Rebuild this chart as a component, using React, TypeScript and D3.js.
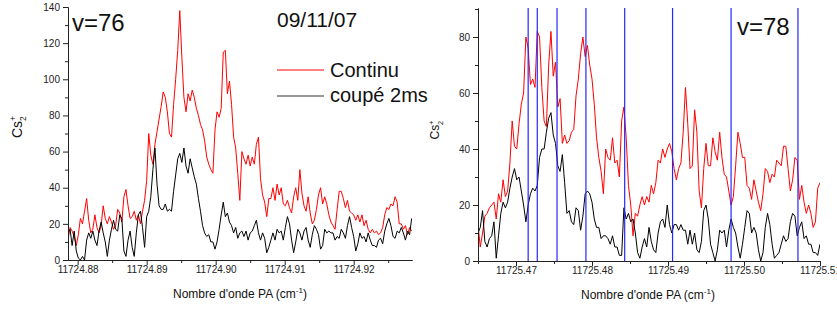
import { useEffect, useRef } from "react";
import * as d3 from "d3";

const WIDTH = 837;
const HEIGHT = 311;
const FONT = "'Liberation Sans', Arial, sans-serif";

// both scans are sampled every 0.0003 cm-1
const scanStep = 0.0003;

// v=76 scan (09/11/07)
const start76 = 11724.8786;
const continu76 = [
  11, 18, 16, 13, 8, 14, 23, 20, 27, 34,
  22, 15, 17, 25, 18, 15, 19, 30, 23, 20,
  24, 21, 17, 19, 28, 26, 21, 35, 39, 30,
  23, 24, 27, 22, 25, 20, 27, 33, 44, 70,
  58, 53, 64, 71, 78, 85, 93, 90, 82, 70,
  68, 86, 100, 116, 138, 112, 90, 82, 92, 88,
  94, 90, 84, 80, 75, 72, 66, 57, 53, 50,
  48, 72, 82, 79, 84, 115, 116, 92, 99, 86,
  68, 62, 48, 33, 60, 56, 53, 58, 52, 57,
  53, 64, 68, 45, 36, 32, 24, 34, 34, 40,
  33, 42, 36, 40, 31, 30, 33, 29, 26, 35,
  40, 33, 50, 37, 30, 27, 35, 26, 20, 22,
  28, 36, 40, 31, 35, 31, 25, 21, 19, 17,
  28, 38, 38, 34, 29, 33, 27, 26, 25, 22,
  25, 21, 25, 19, 22, 17, 15, 17, 15, 16,
  14, 15, 18, 25, 29, 28, 31, 30, 35, 32,
  20, 20, 17, 19, 14, 18, 16,
];
const coupe76 = [
  15, 17, 8, 16, 5, 1, 0, 2, 0, 11,
  15, 12, 16, 11, 8, 16, 21, 15, 10, 2,
  11, 17, 22, 17, 16, 25, 23, 5, 2, 11,
  16, 7, 2, 15, 25, 27, 18, 7, 24, 27,
  35, 50, 62, 42, 30, 28, 28, 31, 27, 28,
  27, 38, 47, 56, 59, 54, 62, 52, 48, 56,
  51, 46, 42, 34, 27, 19, 15, 13, 14, 10,
  10, 6, 10, 17, 25, 32, 24, 26, 21, 19,
  15, 18, 12, 15, 16, 13, 16, 11, 15, 16,
  19, 22, 15, 11, 15, 12, 4, 7, 11, 15,
  11, 17, 15, 16, 11, 18, 24, 20, 11, 4,
  10, 17, 15, 11, 16, 18, 11, 7, 14, 19,
  17, 14, 6, 8, 17, 15, 16, 15, 15, 11,
  13, 12, 17, 15, 12, 19, 24, 18, 13, 5,
  9, 15, 12, 13, 10, 15, 11, 8, 8, 7,
  11, 12, 9, 16, 20, 23, 19, 13, 12, 16,
  15, 18, 15, 11, 16, 14, 23,
];

// v=78 scan
const start78 = 11725.465;
const continu78 = [
  13, 5, 10, 16, 17, 19, 20, 21, 15, 24,
  21, 29, 23, 25, 35, 50, 41, 40, 49, 56,
  60, 80, 76, 63, 65, 62, 82, 80, 62, 50,
  48, 70, 82, 66, 71, 55, 58, 42, 45, 42,
  43, 46, 47, 59, 65, 74, 80, 73, 77, 70,
  65, 56, 44, 37, 32, 24, 40, 37, 36, 44,
  35, 36, 30, 50, 55, 44, 27, 20, 9, 17,
  16, 20, 23, 20, 23, 21, 27, 24, 28, 36,
  35, 40, 37, 40, 42, 39, 33, 29, 33, 35,
  46, 62, 49, 33, 34, 54, 46, 25, 19, 33,
  42, 34, 34, 44, 39, 36, 46, 37, 31, 30,
  25, 20, 23, 34, 46, 42, 37, 37, 27, 26,
  22, 29, 25, 21, 18, 24, 33, 32, 28, 31,
  30, 36, 35, 34, 41, 41, 33, 25, 29, 37,
  36, 22, 27, 21, 17, 20, 17, 12, 14, 26,
  28,
];
const coupe78 = [
  10, 12, 18, 7, 5, 8, 9, 14, 1, 9,
  17, 21, 19, 21, 26, 30, 33, 29, 30, 25,
  20, 14, 20, 24, 26, 25, 27, 37, 40, 40,
  46, 51, 53, 45, 42, 34, 32, 38, 28, 17,
  18, 14, 13, 19, 18, 11, 16, 24, 25, 24,
  21, 15, 12, 12, 8, 9, 9, 8, 6, 9,
  5, 5, 2, 2, 19, 15, 17, 14, 15, 10,
  3, 1, 5, 8, 5, 12, 7, 4, 3, 10,
  14, 15, 12, 20, 13, 10, 13, 13, 11, 13,
  11, 11, 6, 11, 6, 10, 4, 3, 7, 18,
  20, 15, 6, 3, 0, 4, 11, 10, 11, 5,
  11, 15, 12, 10, 5, 1, 6, 12, 18, 17,
  10, 12, 10, 4, 0, 3, 12, 17, 13, 6,
  1, 2, 3, 6, 9, 7, 8, 14, 17, 16,
  9, 12, 14, 8, 9, 6, 6, 3, 3, 2,
  6,
];
// line positions marked in blue on the v=78 scan
const markers78 = [
  11725.4716, 11725.4728, 11725.4754, 11725.4792, 11725.4843, 11725.4906,
  11725.4983, 11725.5071,
];

const ticks76X = [11724.88, 11724.89, 11724.9, 11724.91, 11724.92];
const minor76X = [11724.885, 11724.895, 11724.905, 11724.915, 11724.925];
const ticks76Y = [0, 20, 40, 60, 80, 100, 120, 140];
const minor76Y = [10, 30, 50, 70, 90, 110, 130];
const ticks78X = [11725.47, 11725.48, 11725.49, 11725.5, 11725.51];
const minor78X = [11725.465, 11725.475, 11725.485, 11725.495, 11725.505];
const ticks78Y = [0, 20, 40, 60, 80];
const minor78Y = [10, 30, 50, 70, 90];

type Panel = {
  id: string;
  xDomain: [number, number];
  yDomain: [number, number];
  xRange: [number, number];
  yRange: [number, number];
  start: number;
  red: number[];
  black: number[];
  xTicks: number[];
  xMinor: number[];
  yTicks: number[];
  yMinor: number[];
  markers: number[];
};

function drawPanel(svg: d3.Selection<SVGSVGElement, unknown, null, undefined>, p: Panel) {
  const x = d3.scaleLinear().domain(p.xDomain).range(p.xRange);
  const y = d3.scaleLinear().domain(p.yDomain).range(p.yRange);

  const clipId = `clip-${p.id}`;
  svg
    .append("clipPath")
    .attr("id", clipId)
    .append("rect")
    .attr("x", p.xRange[0])
    .attr("y", p.yRange[1])
    .attr("width", p.xRange[1] - p.xRange[0])
    .attr("height", p.yRange[0] - p.yRange[1]);

  const line = d3
    .line<number>()
    .x((_, i) => x(p.start + i * scanStep))
    .y((d) => y(d));

  const plot = svg.append("g").attr("clip-path", `url(#${clipId})`);
  plot
    .append("path")
    .datum(p.red)
    .attr("fill", "none")
    .attr("stroke", "#ff0000")
    .attr("stroke-width", 1)
    .attr("stroke-linejoin", "round")
    .attr("d", line);
  plot
    .append("path")
    .datum(p.black)
    .attr("fill", "none")
    .attr("stroke", "#000000")
    .attr("stroke-width", 1)
    .attr("stroke-linejoin", "round")
    .attr("d", line);
  plot
    .selectAll("line.marker")
    .data(p.markers)
    .join("line")
    .attr("class", "marker")
    .attr("x1", (d) => x(d))
    .attr("x2", (d) => x(d))
    .attr("y1", p.yRange[1])
    .attr("y2", p.yRange[0])
    .attr("stroke", "#2626ff")
    .attr("stroke-width", 1.2);

  const styleAxis = (g: d3.Selection<SVGGElement, unknown, null, undefined>) => {
    g.attr("font-family", FONT).attr("font-size", 10).attr("color", "#222");
  };

  svg
    .append("g")
    .attr("transform", `translate(${p.xRange[0]},0)`)
    .call(
      d3
        .axisLeft(y)
        .tickValues(p.yMinor)
        .tickSize(3)
        .tickSizeOuter(0)
        .tickFormat(() => "")
    )
    .call(styleAxis);
  svg
    .append("g")
    .attr("transform", `translate(${p.xRange[0]},0)`)
    .call(
      d3
        .axisLeft(y)
        .tickValues(p.yTicks)
        .tickSize(5)
        .tickSizeOuter(0)
        .tickPadding(3)
        .tickFormat(d3.format("d"))
    )
    .call(styleAxis);

  svg
    .append("g")
    .attr("transform", `translate(0,${p.yRange[0]})`)
    .call(
      d3
        .axisBottom(x)
        .tickValues(p.xMinor)
        .tickSize(3)
        .tickSizeOuter(0)
        .tickFormat(() => "")
    )
    .call(styleAxis);
  svg
    .append("g")
    .attr("transform", `translate(0,${p.yRange[0]})`)
    .call(
      d3
        .axisBottom(x)
        .tickValues(p.xTicks)
        .tickSize(5)
        .tickSizeOuter(0)
        .tickPadding(1)
        .tickFormat(d3.format(".2f"))
    )
    .call(styleAxis);
}

function addYTitle(
  svg: d3.Selection<SVGSVGElement, unknown, null, undefined>,
  cx: number,
  cy: number,
  size: number
) {
  const t = svg
    .append("text")
    .attr("transform", `translate(${cx},${cy}) rotate(-90)`)
    .attr("text-anchor", "middle")
    .attr("font-family", FONT)
    .attr("font-size", size)
    .attr("fill", "#111");
  t.append("tspan").text("Cs");
  t.append("tspan")
    .attr("font-size", size * 0.6)
    .attr("dy", -size * 0.45)
    .text("+");
  t.append("tspan")
    .attr("font-size", size * 0.6)
    .attr("dx", -size * 0.36)
    .attr("dy", size * 0.75)
    .text("2");
}

function addXTitle(
  svg: d3.Selection<SVGSVGElement, unknown, null, undefined>,
  cx: number,
  baseline: number
) {
  const t = svg
    .append("text")
    .attr("x", cx)
    .attr("y", baseline)
    .attr("text-anchor", "middle")
    .attr("font-family", FONT)
    .attr("font-size", 12)
    .attr("fill", "#111");
  t.append("tspan").text("Nombre d'onde PA (cm");
  t.append("tspan").attr("font-size", 8).attr("dy", -5).text("-1");
  t.append("tspan").attr("dy", 5).text(")");
}

export default function App() {
  const svgRef = useRef<SVGSVGElement | null>(null);

  useEffect(() => {
    if (!svgRef.current) return;
    const svg = d3.select(svgRef.current);
    svg.selectAll("*").remove();

    drawPanel(svg, {
      id: "v76",
      xDomain: [start76, 11724.92845],
      yDomain: [0, 140],
      xRange: [68, 412],
      yRange: [260, 7],
      start: start76,
      red: continu76,
      black: coupe76,
      xTicks: ticks76X,
      xMinor: minor76X,
      yTicks: ticks76Y,
      yMinor: minor76Y,
      markers: [],
    });
    drawPanel(svg, {
      id: "v78",
      xDomain: [start78, 11725.51],
      yDomain: [0, 90.36],
      xRange: [478, 820],
      yRange: [261, 8],
      start: start78,
      red: continu78,
      black: coupe78,
      xTicks: ticks78X,
      xMinor: minor78X,
      yTicks: ticks78Y,
      yMinor: minor78Y,
      markers: markers78,
    });

    addYTitle(svg, 22, 127, 14);
    addYTitle(svg, 439, 130, 12);
    addXTitle(svg, 240, 298);
    addXTitle(svg, 648, 299);

    const label = (x: number, y: number, size: number, text: string) =>
      svg
        .append("text")
        .attr("x", x)
        .attr("y", y)
        .attr("font-family", FONT)
        .attr("font-size", size)
        .attr("fill", "#111")
        .text(text);

    label(72, 31, 24, "v=76");
    label(737, 35, 24, "v=78");
    label(277, 27, 21, "09/11/07");

    // legend
    svg.append("line").attr("x1", 277).attr("x2", 324).attr("y1", 70).attr("y2", 70)
      .attr("stroke", "#ff0000").attr("stroke-width", 1);
    label(330, 77, 20, "Continu");
    svg.append("line").attr("x1", 277).attr("x2", 324).attr("y1", 96).attr("y2", 96)
      .attr("stroke", "#333").attr("stroke-width", 1);
    label(330, 102, 20, "coupé 2ms");
  }, []);

  return (
    <svg
      ref={svgRef}
      width={WIDTH}
      height={HEIGHT}
      style={{ position: "absolute", left: 0, top: 0, background: "#fff" }}
    />
  );
}
